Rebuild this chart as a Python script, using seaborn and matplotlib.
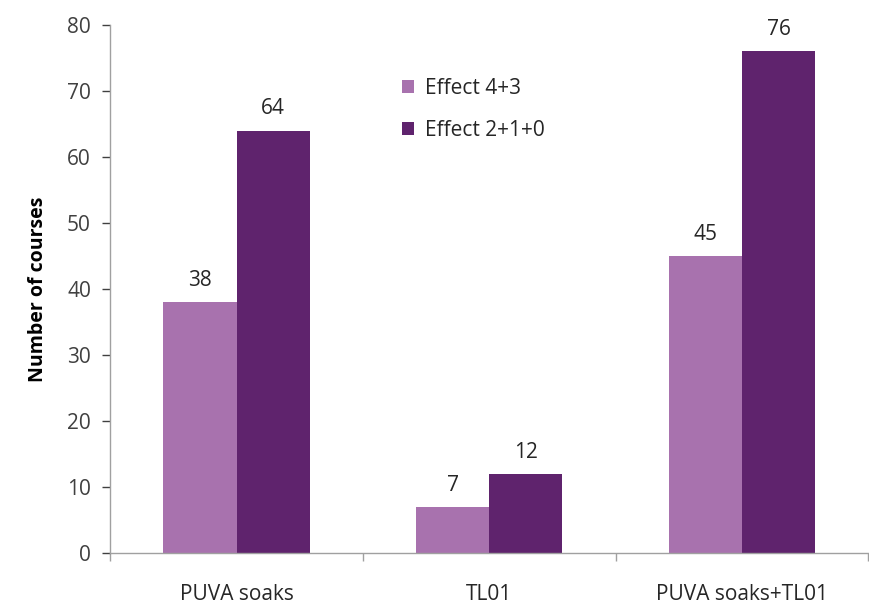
import matplotlib
matplotlib.use("Agg")
import matplotlib.pyplot as plt
import seaborn as sns
import pandas as pd

categories = ["PUVA soaks", "TL01", "PUVA soaks+TL01"]
effect_43 = [38, 7, 45]
effect_210 = [64, 12, 76]
series = ["Effect 4+3", "Effect 2+1+0"]
colors = ["#A872AE", "#5F236D"]

df = pd.DataFrame({
    "category": categories * 2,
    "value": effect_43 + effect_210,
    "series": [series[0]] * 3 + [series[1]] * 3,
})

sns.set_style("white")
plt.rcParams["font.family"] = ["Open Sans", "DejaVu Sans"]

fig = plt.figure(figsize=(8.69, 6.08), dpi=100)
ax = fig.add_axes([0.127, 0.09, 0.872, 0.869])

sns.barplot(data=df, x="category", y="value", hue="series", palette=colors,
            width=0.58, saturation=1, linewidth=0, ax=ax, legend=True)

for cont in ax.containers:
    ax.bar_label(cont, padding=8, fontsize=15, color="#262626")

ax.set_ylim(0, 80)
ax.set_yticks(range(0, 81, 10))
ax.set_xlim(-0.5, 2.5)
ax.set_xlabel("")
ax.set_ylabel("Number of courses", fontsize=14, fontweight="bold", color="#000000", labelpad=14)
ax.tick_params(axis="y", labelsize=15, colors="#404040", length=6, width=1, pad=8, direction="out", left=True)
ax.tick_params(axis="x", labelsize=15, colors="#262626", length=0, pad=22)
ax.set_xticks([0, 1, 2])
ax.set_xticks([-0.5, 0.5, 1.5, 2.5], minor=True)
ax.tick_params(axis="x", which="minor", length=6, width=1, color="#a0a0a0", bottom=True)

for side in ["top", "right"]:
    ax.spines[side].set_visible(False)
for side in ["left", "bottom"]:
    ax.spines[side].set_color("#a0a0a0")
    ax.spines[side].set_linewidth(1)
for t in ax.get_yticklines():
    t.set_color("#a0a0a0")

leg = ax.legend(loc="upper left", bbox_to_anchor=(0.36, 0.935), frameon=False,
                fontsize=15, handlelength=0.6, handleheight=0.6, labelspacing=1.0,
                handletextpad=0.5)
for txt in leg.get_texts():
    txt.set_color("#262626")

fig.savefig("out.png", dpi=100)
